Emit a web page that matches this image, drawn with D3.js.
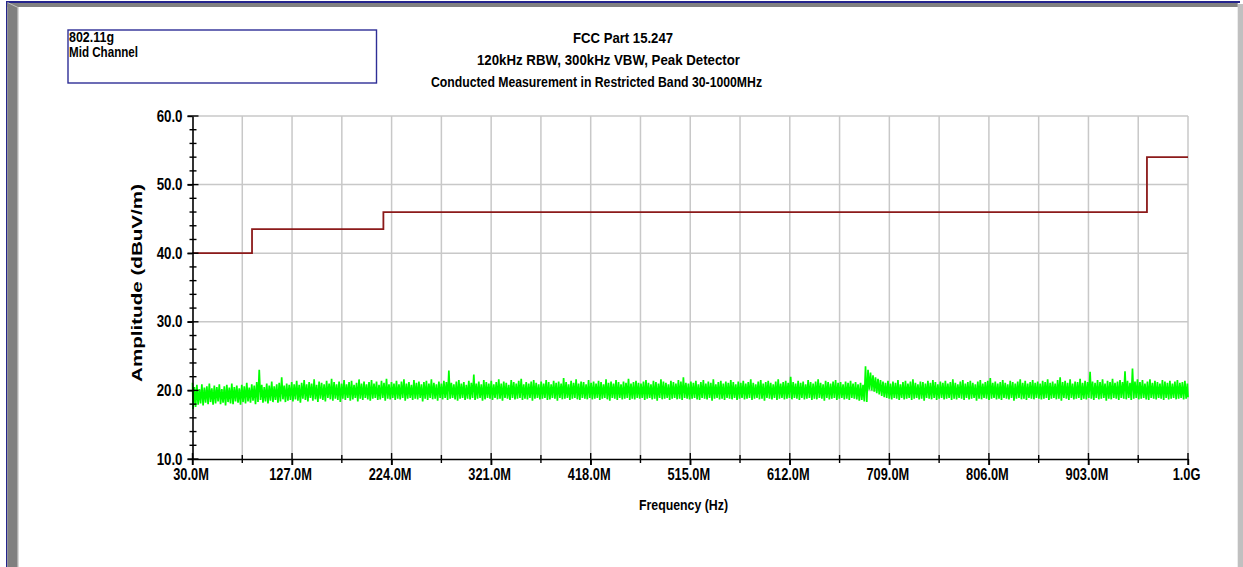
<!DOCTYPE html>
<html><head><meta charset="utf-8">
<script src="https://cdn.jsdelivr.net/npm/d3@7"></script>
<style>
html,body{margin:0;padding:0;background:#fff;}
svg{display:block;}
text{font-family:"Liberation Sans",Arial,sans-serif;font-weight:bold;fill:#000;}
</style>
</head><body><svg id="c" width="1243" height="567"></svg>
<script>
// ---------- data ----------
const titleLines = ["FCC Part 15.247", "120kHz RBW, 300kHz VBW, Peak Detector", "Conducted Measurement in Restricted Band 30-1000MHz"];
const noteLines = ["802.11g", "Mid Channel"];
const xLabel = "Frequency (Hz)";
const yLabel = "Amplitude (dBuV/m)";
const xTickValues = [30, 127, 224, 321, 418, 515, 612, 709, 806, 903, 1000]; // MHz
const xTickLabels = ["30.0M", "127.0M", "224.0M", "321.0M", "418.0M", "515.0M", "612.0M", "709.0M", "806.0M", "903.0M", "1.0G"];
const yTickValues = [10, 20, 30, 40, 50, 60];
const yTickLabels = ["10.0", "20.0", "30.0", "40.0", "50.0", "60.0"];
// FCC limit line (MHz, dBuV/m)
const limitFreq  = [30, 88, 88, 216, 216, 960, 960, 1000];
const limitLevel = [40, 40, 43.5, 43.5, 46, 46, 54, 54];
// measured trace: max / min per frequency bin, 30 MHz .. 1000 MHz
const traceStart = 30, traceStop = 1000;
const traceHigh = [
21.1,20.5,20.8,20.2,20.9,20.4,20.6,21.0,20.3,20.7,20.5,20.9,20.2,20.6,20.8,20.4,21.0,20.5,20.7,20.3,
20.8,20.6,21.1,20.4,20.9,20.7,21.2,23.0,20.8,20.5,21.0,20.7,21.3,20.6,20.9,21.1,21.9,20.7,21.0,20.8,
21.2,20.9,21.4,20.8,21.1,21.5,20.9,21.2,21.0,21.6,20.8,21.3,21.1,20.9,21.4,21.0,21.7,21.2,20.9,21.3,
21.0,21.5,20.9,21.2,21.4,20.8,21.1,21.6,21.0,21.3,20.9,21.2,21.5,21.0,21.3,20.8,21.4,21.1,21.7,20.9,
21.2,21.0,21.4,20.9,21.3,21.6,21.0,21.2,20.8,21.5,21.1,21.3,20.9,21.2,21.4,21.0,21.6,21.1,20.9,21.3,
21.0,21.4,21.2,22.9,21.1,20.9,21.3,21.5,21.0,21.2,20.8,21.4,21.1,22.3,21.0,21.3,20.9,21.5,21.2,21.0,
21.4,20.9,21.2,21.6,21.0,21.3,21.1,20.8,21.5,21.2,21.0,21.4,21.7,20.9,21.2,21.0,21.3,21.5,21.1,20.9,
21.3,21.0,21.5,21.2,20.9,21.4,21.1,21.3,21.0,21.8,21.2,20.9,21.4,21.1,21.6,21.0,21.3,21.2,20.9,21.5,
21.1,21.3,21.0,21.4,21.2,20.9,21.6,21.1,21.3,21.0,21.5,21.2,20.9,21.3,21.1,21.7,21.0,21.2,21.4,21.1,
21.0,21.3,21.5,21.1,20.9,21.4,21.2,21.0,21.6,21.3,21.1,20.9,21.4,21.2,21.0,21.5,21.3,21.9,21.1,21.0,
21.3,21.1,21.4,20.9,21.2,21.5,21.0,21.3,21.1,21.6,20.9,21.2,21.4,21.0,21.3,21.1,21.5,21.2,20.9,21.3,
21.1,21.4,21.0,21.2,21.6,21.1,20.9,21.3,21.5,21.0,21.2,21.4,21.1,20.9,21.3,21.6,21.0,21.2,21.4,21.1,
22.0,21.2,21.0,21.4,21.1,21.3,20.9,21.5,21.2,21.0,21.3,21.6,21.1,20.9,21.4,21.2,21.0,21.3,21.5,21.1,
21.2,20.9,21.3,21.1,21.4,21.0,21.2,20.9,21.1,20.8,23.5,23.0,22.6,22.2,21.9,21.7,21.5,21.3,21.1,21.4,
21.0,21.3,21.1,21.5,20.9,21.2,21.4,21.0,21.3,21.6,21.1,20.9,21.3,21.2,21.0,21.4,21.1,21.5,21.2,20.9,
21.3,21.1,21.4,21.0,21.2,21.6,21.1,20.9,21.3,21.5,21.0,21.2,21.4,21.1,20.9,21.3,21.5,21.0,21.2,21.4,
21.8,21.1,21.3,21.0,21.2,21.5,21.1,20.9,21.4,21.2,21.0,21.3,21.6,21.1,21.4,21.0,21.2,21.5,21.1,21.3,
21.0,21.4,21.2,21.6,21.1,21.3,21.0,21.5,21.9,21.2,21.4,21.1,21.6,21.0,21.3,21.2,21.7,21.1,21.4,21.2,
22.7,21.3,21.1,21.5,21.2,21.6,21.0,21.4,21.2,21.7,21.1,21.3,21.5,21.2,22.8,21.4,21.1,23.2,21.3,21.6,
21.2,21.5,21.0,21.3,21.6,21.1,21.4,21.2,21.0,21.5,21.3,21.1,21.4,21.0,21.3,21.5,21.1,21.2,21.4,21.0
];
const traceLow = [
17.3,17.6,17.9,18.1,17.8,18.2,18.0,18.3,17.9,18.1,18.4,18.0,18.2,17.8,18.3,18.1,18.0,18.4,18.2,17.9,
18.3,18.1,18.4,18.2,18.5,18.0,18.3,18.6,18.2,18.4,18.1,18.5,18.3,18.6,18.2,18.4,18.7,18.3,18.5,18.6,
18.4,18.7,18.5,18.2,18.8,18.6,18.4,18.9,18.5,18.7,18.3,18.8,18.6,18.4,18.9,18.7,18.5,18.8,18.6,18.3,
18.8,18.6,18.9,18.5,18.7,18.9,18.4,18.8,18.6,18.9,18.7,18.5,18.8,18.9,18.6,18.7,18.9,18.5,18.8,18.7,
18.9,18.6,18.8,18.7,18.9,18.5,18.8,18.9,18.6,18.8,18.7,18.9,18.4,18.8,18.6,18.9,18.7,18.8,18.5,18.9,
18.7,18.9,18.6,18.8,18.9,18.7,18.5,18.8,18.9,18.6,18.8,18.7,18.9,18.6,18.8,18.9,18.5,18.7,18.9,18.8,
18.6,18.9,18.7,18.8,18.5,18.9,18.8,18.6,18.9,18.7,18.8,18.9,18.6,18.8,18.7,18.9,18.5,18.8,18.9,18.7,
18.8,18.9,18.6,18.7,18.9,18.8,18.5,18.9,18.7,18.8,18.9,18.6,18.8,18.9,18.7,18.6,18.9,18.8,18.7,18.9,
18.7,18.8,18.9,18.6,18.8,18.9,18.7,18.5,18.9,18.8,18.6,18.9,18.7,18.8,18.9,18.6,18.8,18.7,18.9,18.8,
18.9,18.6,18.8,18.9,18.7,18.8,18.5,18.9,18.7,18.8,18.9,18.6,18.8,18.9,18.7,18.8,18.6,18.9,18.8,18.7,
18.8,18.9,18.7,18.6,18.9,18.8,18.7,18.9,18.5,18.8,18.9,18.7,18.8,18.6,18.9,18.8,18.7,18.9,18.6,18.8,
18.9,18.7,18.8,18.9,18.6,18.8,18.9,18.7,18.8,18.5,18.9,18.8,18.7,18.9,18.6,18.8,18.9,18.7,18.8,18.9,
18.7,18.9,18.8,18.6,18.9,18.7,18.8,18.9,18.6,18.8,18.7,18.9,18.8,18.5,18.9,18.7,18.8,18.9,18.6,18.8,
18.9,18.7,18.8,18.6,18.9,18.8,18.7,18.5,18.6,18.4,18.3,20.1,20.0,19.8,19.6,19.4,19.2,19.0,18.9,18.8,
18.7,18.9,18.8,18.6,18.9,18.7,18.8,18.9,18.6,18.8,18.9,18.7,18.8,18.5,18.9,18.8,18.7,18.9,18.6,18.8,
18.9,18.7,18.8,18.9,18.6,18.8,18.7,18.9,18.8,18.6,18.9,18.7,18.8,18.9,18.5,18.8,18.7,18.9,18.8,18.6,
18.8,18.9,18.7,18.8,18.6,18.9,18.8,18.7,18.9,18.5,18.8,18.9,18.7,18.8,18.6,18.9,18.8,18.7,18.9,18.8,
18.7,18.8,18.9,18.6,18.8,18.9,18.7,18.8,18.5,18.9,18.8,18.6,18.9,18.7,18.8,18.9,18.6,18.8,18.7,18.9,
18.8,18.6,18.9,18.7,18.8,18.9,18.5,18.8,18.7,18.9,18.8,18.6,18.9,18.8,18.7,18.9,18.6,18.8,18.9,18.7,
18.8,18.9,18.7,18.6,18.9,18.8,18.7,18.9,18.8,18.6,18.9,18.7,18.8,18.9,18.7,18.8,18.9,18.7,18.8,19.0
];

// ---------- drawing ----------
const svg = d3.select("#c");
const x = d3.scaleLinear().domain([traceStart, traceStop]).range([192.5, 1188]);
const y = d3.scaleLinear().domain([10, 60]).range([459, 116]);

// window frame
const NAVY = "#24248c", GRAY = "#808080", LGRAY = "#c0c0c0";
svg.append("rect").attr("x", 1237.7).attr("y", 4).attr("width", 5.3).attr("height", 563).attr("fill", LGRAY);
svg.append("rect").attr("x", 6).attr("y", 1).attr("width", 1234).attr("height", 2).attr("fill", NAVY);
svg.append("rect").attr("x", 6).attr("y", 1).attr("width", 1.3).attr("height", 566).attr("fill", NAVY);
svg.append("rect").attr("x", 7.3).attr("y", 3).attr("width", 1230.4).attr("height", 4).attr("fill", GRAY);
svg.append("rect").attr("x", 7.3).attr("y", 3).attr("width", 10.4).attr("height", 564).attr("fill", GRAY);
svg.append("rect").attr("x", 17.5).attr("y", 7).attr("width", 1).attr("height", 560).attr("fill", "#b4b4b4");
svg.append("line").attr("x1", 7.5).attr("y1", 2.5).attr("x2", 18).attr("y2", 7.5).attr("stroke", LGRAY).attr("stroke-width", 1);

// note box
svg.append("rect").attr("x", 68).attr("y", 30).attr("width", 308.5).attr("height", 53)
  .attr("fill", "none").attr("stroke", "#2e2e96").attr("stroke-width", 1.4);
const noteBase = [42, 57], noteLen = [45, 69];
noteLines.forEach((t, i) => {
  svg.append("text").attr("x", 69).attr("y", noteBase[i]).attr("font-size", 14.5)
    .attr("textLength", noteLen[i]).attr("lengthAdjust", "spacingAndGlyphs").text(t);
});

// titles
const titleX = [573, 477, 431], titleBase = [43, 65, 87], titleLen = [100, 263, 331];
titleLines.forEach((t, i) => {
  svg.append("text").attr("x", titleX[i]).attr("y", titleBase[i]).attr("font-size", 14.5)
    .attr("textLength", titleLen[i]).attr("lengthAdjust", "spacingAndGlyphs").text(t);
});

// grid
const grid = svg.append("g");
const vGrid = d3.range(1, 21).map(k => traceStart + k * (traceStop - traceStart) / 20);
grid.selectAll("line.v").data(vGrid).join("line")
  .attr("x1", d => x(d)).attr("x2", d => x(d)).attr("y1", y(60)).attr("y2", y(10))
  .attr("stroke", "#c8c8c8").attr("stroke-width", 1.5);
grid.selectAll("line.h").data(yTickValues.slice(1)).join("line")
  .attr("x1", x(traceStart)).attr("x2", x(traceStop)).attr("y1", d => y(d)).attr("y2", d => y(d))
  .attr("stroke", "#c8c8c8").attr("stroke-width", 1.5);

// limit line
const limitPts = limitFreq.map((f, i) => [x(f), y(limitLevel[i])]);
svg.append("path").attr("d", d3.line()(limitPts)).attr("fill", "none")
  .attr("stroke", "#8c1a1a").attr("stroke-width", 1.8);

// measured trace (max/min zigzag)
const n = traceHigh.length, step = (traceStop - traceStart) / (n - 1);
const tracePts = [];
traceHigh.forEach((h, i) => {
  const f = traceStart + i * step;
  tracePts.push([x(Math.max(traceStart, f - step / 4)), y(h)]);
  tracePts.push([x(Math.min(traceStop, f + step / 4)), y(traceLow[i])]);
});
svg.append("path").attr("d", d3.line()(tracePts)).attr("fill", "none")
  .attr("stroke", "#00ff00").attr("stroke-width", 1.7).attr("stroke-linejoin", "miter");

// axes
const yAxis = d3.axisLeft(y).tickValues(yTickValues).tickFormat((d, i) => yTickLabels[i])
  .tickSizeInner(5).tickSizeOuter(0).tickPadding(5);
const gy = svg.append("g").attr("transform", `translate(${x(traceStart)},0)`).call(yAxis);
gy.select(".domain").attr("stroke", "#000").attr("stroke-width", 1.6);
gy.selectAll(".tick line").attr("stroke", "#000").attr("stroke-width", 1.4);
gy.selectAll(".tick text").attr("font-size", 16).attr("font-family", null).attr("fill", "#000")
  .each(function () { const L = this.getComputedTextLength(); d3.select(this).attr("textLength", L * 0.83).attr("lengthAdjust", "spacingAndGlyphs"); });
const yMinor = d3.range(10, 60.1, 2);
gy.selectAll("line.inner").data(yMinor).join("line").attr("class", "inner")
  .attr("x1", d => yTickValues.includes(d) ? -5 : -3).attr("x2", d => yTickValues.includes(d) ? 6 : 4)
  .attr("y1", d => y(d)).attr("y2", d => y(d)).attr("stroke", "#000").attr("stroke-width", 1.4);

const xAxis = d3.axisBottom(x).tickValues(xTickValues).tickFormat((d, i) => xTickLabels[i])
  .tickSizeInner(6).tickSizeOuter(0).tickPadding(4);
const gx = svg.append("g").attr("transform", `translate(0,${y(10)})`).call(xAxis);
gx.select(".domain").attr("stroke", "#000").attr("stroke-width", 1.6);
gx.selectAll(".tick line").attr("stroke", "#000").attr("stroke-width", 1.4);
gx.selectAll(".tick text").attr("font-size", 16).attr("font-family", null).attr("fill", "#000").attr("dx", -2)
  .each(function () { const L = this.getComputedTextLength(); d3.select(this).attr("textLength", L * 0.8).attr("lengthAdjust", "spacingAndGlyphs"); });
const xMinor = d3.range(0, 21).map(k => traceStart + k * (traceStop - traceStart) / 20);
gx.selectAll("line.inner").data(xMinor).join("line").attr("class", "inner")
  .attr("x1", d => x(d)).attr("x2", d => x(d))
  .attr("y1", (d, i) => i % 2 === 0 ? -6 : -4).attr("y2", (d, i) => i % 2 === 0 ? 6 : 4)
  .attr("stroke", "#000").attr("stroke-width", 1.4);

// axis titles
svg.append("text").attr("x", 639).attr("y", 510).attr("font-size", 14.5)
  .attr("textLength", 89).attr("lengthAdjust", "spacingAndGlyphs").text(xLabel);
svg.append("text").attr("transform", "translate(142,382) rotate(-90)").attr("font-size", 14.5)
  .attr("textLength", 198).attr("lengthAdjust", "spacingAndGlyphs").text(yLabel);
</script>
</body></html>
